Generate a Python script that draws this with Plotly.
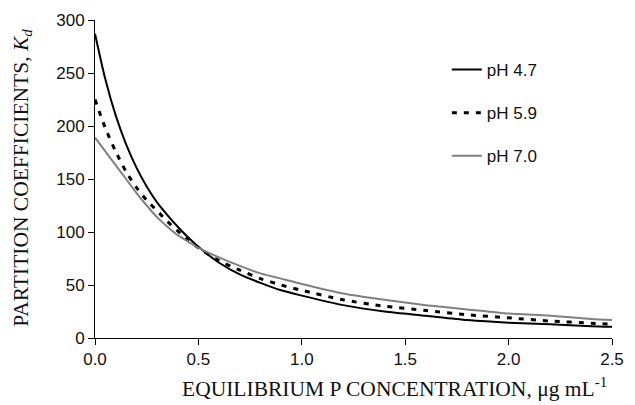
import plotly.graph_objects as go

conc = [0, 0.05, 0.1, 0.15, 0.2, 0.25, 0.3, 0.35, 0.4, 0.45, 0.5, 0.6, 0.7, 0.8,
        0.9, 1.0, 1.2, 1.4, 1.6, 1.8, 2.0, 2.2, 2.4, 2.5]
kd_ph47 = [287, 244, 210, 183, 161, 143, 128, 116, 105, 95, 86, 71, 60, 52,
           45, 40, 31, 25, 21, 17, 14.5, 13, 11, 10.5]
kd_ph59 = [225, 198, 176, 157, 142, 130, 120, 110, 101, 93, 85, 73, 64, 56,
           50, 45, 36, 30, 26, 22, 19, 16, 14, 13]
kd_ph70 = [189, 176, 163, 150, 137, 125, 114, 105, 97, 91, 85, 76, 68, 61,
           56, 51, 42, 36, 31, 27, 23, 21, 18, 17]
names = ["pH 4.7", "pH 5.9", "pH 7.0"]
x_ticks = [0, 0.5, 1.0, 1.5, 2.0, 2.5]
x_ticktext = ["0.0", "0.5", "1.0", "1.5", "2.0", "2.5"]
y_ticks = [0, 50, 100, 150, 200, 250, 300]

fig = go.Figure()
fig.add_trace(go.Scatter(x=conc, y=kd_ph47, mode="lines", name=names[0],
                         line=dict(color="black", width=2, shape="spline", smoothing=0.7),
                         legendgroup="a"))
fig.add_trace(go.Scatter(x=conc, y=kd_ph59, mode="lines", name=names[1],
                         line=dict(color="black", width=3, dash="5px,7px", shape="spline", smoothing=0.7),
                         legendgroup="b"))
fig.add_trace(go.Scatter(x=conc, y=kd_ph70, mode="lines", name=names[2],
                         line=dict(color="#808080", width=2, shape="spline", smoothing=0.7),
                         legendgroup="c"))

tickfont = dict(family="Liberation Sans, Arial", size=17, color="#111")
serif = "Liberation Serif, Times New Roman, serif"
titlefont = dict(family=serif, size=21.5, color="#111")

L, R, T, B = 95, 624, 20, 338
W = R - L
H = B - T

fig.update_layout(
    width=635, height=405,
    margin=dict(l=L, r=635 - R, t=T, b=405 - B),
    paper_bgcolor="white", plot_bgcolor="white",
    showlegend=True,
    legend=dict(x=(455 - L) / W, xanchor="left", y=(B - 52) / H, yanchor="top",
                tracegroupgap=18, font=dict(family="Liberation Sans, Arial", size=17, color="#111"),
                bgcolor="rgba(0,0,0,0)"),
    xaxis=dict(range=[0, 2.5], tickvals=x_ticks, ticktext=x_ticktext,
               showline=True, linecolor="black", linewidth=1,
               ticks="outside", ticklen=6, tickcolor="black",
               ticklabeloverflow="allow",
               showgrid=False, zeroline=False, tickfont=tickfont),
    yaxis=dict(range=[0, 300], tickvals=y_ticks,
               showline=True, linecolor="black", linewidth=1,
               ticks="outside", ticklen=6, tickcolor="black",
               showgrid=False, zeroline=False, tickfont=tickfont),
    annotations=[
        dict(text="EQUILIBRIUM P CONCENTRATION, μg mL<sup>-1</sup>",
             xref="paper", yref="paper", x=(401 - L) / W, y=(B - 387) / H,
             xanchor="center", yanchor="middle", showarrow=False, font=titlefont),
        dict(text="PARTITION COEFFICIENTS, <i>K<sub>d</sub></i>",
             xref="paper", yref="paper", x=(20 - L) / W, y=(B - 178) / H,
             xanchor="center", yanchor="middle", showarrow=False, textangle=-90,
             font=titlefont),
    ],
)

fig.write_html("out.html")
